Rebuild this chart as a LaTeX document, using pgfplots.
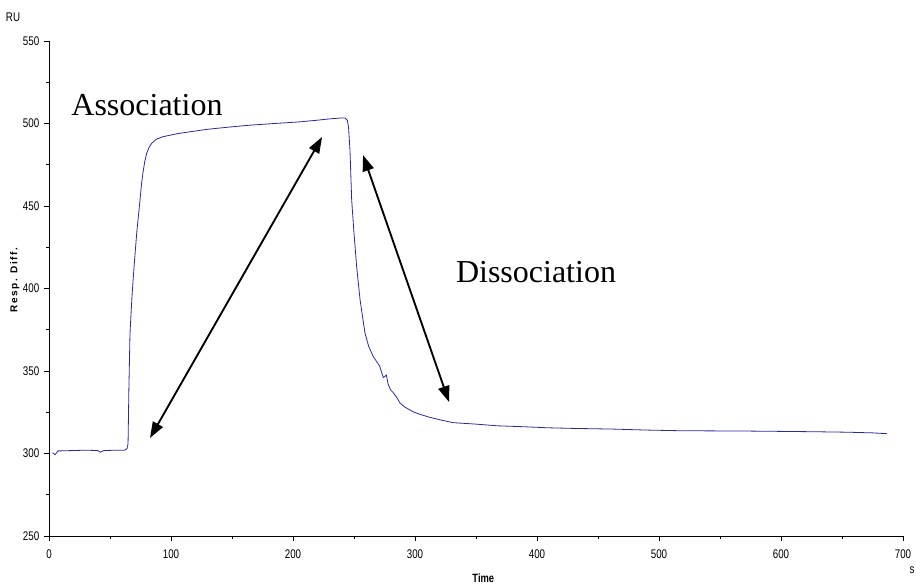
\documentclass[border=0pt]{standalone}
\usepackage{fontspec}
\usepackage{pgfplots}
\pgfplotsset{compat=1.18}
\usetikzlibrary{arrows.meta}
\setmainfont{Liberation Serif}
\newfontfamily\narrowsans[FakeStretch=0.78]{Liberation Sans}
\newfontfamily\spacedsans[LetterSpace=15]{Liberation Sans}
\definecolor{sensor}{rgb}{0.16,0.16,0.62}

\begin{document}
\begin{tikzpicture}
\begin{axis}[
  scale only axis,
  width=640.5pt, height=371.25pt,
  xmin=0, xmax=700, ymin=250, ymax=550,
  axis lines=left,
  axis line style={-, line width=0.7pt},
  xtick={0,100,...,700}, ytick={250,300,...,550},
  minor xtick={50,150,...,650}, minor ytick={275,325,...,525},
  tick align=outside,
  major tick length=3.8pt, minor tick length=2pt,
  tick style={black, line width=0.6pt},
  /pgf/number format/assume math mode=true,
  ticklabel style={font=\narrowsans\fontsize{9.4}{10}\selectfont},
  xticklabel style={yshift=-3pt},
  clip=false,
]
\addplot[sensor, line width=0.6pt] coordinates {
 (3,300.5) (4.9,299.2) (7.4,301.6) (10,301.6) (20,301.8) (30,302.0) (40,301.8)
 (42,300.8) (45,301.8) (55,302.0) (62,302.0) (64,303.0) (64.8,306) (65.5,340)
 (66.4,373) (68,395) (69.7,413) (71.9,433.6) (73.3,444) (74.6,453.6) (75.8,463)
 (77,470) (78.5,477) (80.1,482) (82,485.5) (84.2,488) (88,490.5) (93.4,492)
 (105,493.8) (115.6,495) (130,496.5) (150,498) (165,499) (185,500) (205.7,501)
 (220,502) (230,502.8) (238.5,503.3) (242.6,503.3) (244.5,502) (245.5,498)
 (246.7,484) (248.1,453.6) (250,433.6) (252.2,413) (255,393) (259,373)
 (262,365) (265.6,359) (271,353) (274,346) (276.5,347.5) (278,342) (280,338.5)
 (282,337) (285,334) (287.7,330.6) (292,328) (298.4,325.3) (305,323.5) (312.3,321.9)
 (320,320.5) (331.1,318.7) (350,317.8) (367.2,316.8) (390,316.2) (408.2,315.6)
 (430,315.2) (462.3,314.8) (490,314.2) (517.2,313.8) (545,313.7) (572.1,313.6)
 (600,313.4) (626.2,313.2) (655,312.9) (675,312.5) (686.9,312.0)
};
% double-headed arrows marking the two phases
\draw[{Triangle[length=12pt,width=8.5pt]}-{Triangle[length=12pt,width=8.5pt]}, line width=1.4pt]
  (axis cs:82.8,309.4) -- (axis cs:223.8,491.8);
\draw[{Triangle[length=12pt,width=8.5pt]}-{Triangle[length=12pt,width=8.5pt]}, line width=1.4pt]
  (axis cs:257.4,480.9) -- (axis cs:327.9,331.2);
\node[font=\fontsize{24}{26}\selectfont] at (axis cs:80.3,511.2) {Association};
\node[font=\fontsize{24}{26}\selectfont] at (axis cs:399.2,410) {Dissociation};
% axis captions
\node[font=\narrowsans\fontsize{9.4}{10}\selectfont] at (axis cs:-29.5,564.5) {RU};
\node[font=\narrowsans\fontsize{9.4}{10}\selectfont] at (axis cs:707.4,229.4) {s};
\node[font=\narrowsans\bfseries\fontsize{9}{10}\selectfont] at (axis cs:356,224.5) {Time};
\node[font=\spacedsans\bfseries\fontsize{7.5}{8}\selectfont, rotate=90] at (axis cs:-28,405) {Resp. Diff.};
\end{axis}
\pgfresetboundingbox
\path (-36.75pt,-36.75pt) rectangle (650.25pt,402pt);
\end{tikzpicture}
\end{document}
